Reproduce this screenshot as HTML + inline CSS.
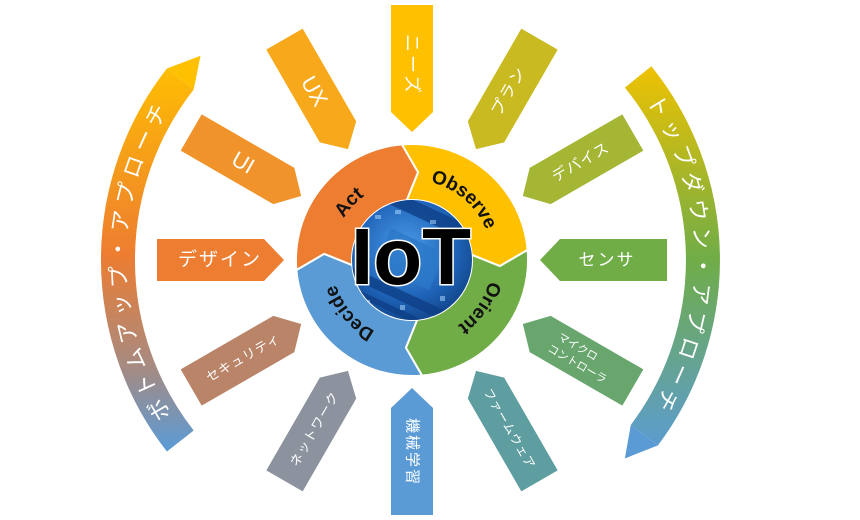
<!DOCTYPE html>
<html><head><meta charset="utf-8"><style>
html,body{margin:0;padding:0;background:#fff;}
svg{display:block;}
text{font-family:"Liberation Sans","Noto Sans CJK JP",sans-serif;}
.w{fill:#fff;}
</style></head><body>
<svg width="860" height="520" viewBox="0 0 860 520" xmlns="http://www.w3.org/2000/svg">
<defs>
<linearGradient id="gl" gradientUnits="userSpaceOnUse" x1="0" y1="60" x2="0" y2="450">
<stop offset="0" stop-color="#FFC000"/><stop offset="0.5" stop-color="#ED7D31"/><stop offset="0.78" stop-color="#A88A80"/><stop offset="1" stop-color="#5B9BD5"/></linearGradient>
<linearGradient id="gr" gradientUnits="userSpaceOnUse" x1="0" y1="62" x2="0" y2="455">
<stop offset="0" stop-color="#F2C200"/><stop offset="0.5" stop-color="#70AD47"/><stop offset="1" stop-color="#5B9BD5"/></linearGradient>
<radialGradient id="cb" cx="0.45" cy="0.4" r="0.7"><stop offset="0" stop-color="#4a9be6"/><stop offset="0.6" stop-color="#1f63b8"/><stop offset="1" stop-color="#0d3c7a"/></radialGradient>
<clipPath id="cc"><circle cx="412" cy="260" r="60"/></clipPath>
<path id="la" d="M180.3,441 A294 294 0 0 1 180.3,79"/>
<path id="ra" d="M638.1,76.9 A291 291 0 0 1 644.4,435.1"/>
<path id="rc" d="M492,260 A80 80 0 1 1 332,260 A80 80 0 1 1 492,260"/>
<polygon id="ar" points="255,-21 148,-21 128,0 148,21 255,21"/>
</defs>

<path d="M180.3,441 A294 294 0 0 1 180.3,79" fill="none" stroke="url(#gl)" stroke-width="34"/>
<g transform="translate(412,260) rotate(218)"><polygon points="277,0 311,0 292.4,30.7" fill="#FFC000"/></g>
<path d="M638.1,76.9 A291 291 0 0 1 644.4,435.1" fill="none" stroke="url(#gr)" stroke-width="34"/>
<g transform="translate(412,260) rotate(37)"><polygon points="274,0 308,0 289.4,30.4" fill="#5B9BD5"/></g>
<text font-size="22" class="w" letter-spacing="6" dominant-baseline="central"><textPath href="#la" startOffset="50%" text-anchor="middle">ボトムアップ・アプローチ</textPath></text>
<text font-size="22" class="w" letter-spacing="6" dominant-baseline="central"><textPath href="#ra" startOffset="50%" text-anchor="middle">トップダウン・アプローチ</textPath></text>

<g transform="translate(412,260)">
<use href="#ar" transform="rotate(180)" fill="#ED7D31"/>
<use href="#ar" transform="rotate(210)" fill="#F0932A"/>
<use href="#ar" transform="rotate(240)" fill="#F7A81B"/>
<use href="#ar" transform="rotate(270)" fill="#FFC000"/>
<use href="#ar" transform="rotate(300)" fill="#C9BA22"/>
<use href="#ar" transform="rotate(330)" fill="#A5B534"/>
<use href="#ar" transform="rotate(0)" fill="#70AD47"/>
<use href="#ar" transform="rotate(30)" fill="#68A66E"/>
<use href="#ar" transform="rotate(60)" fill="#5F9EA0"/>
<use href="#ar" transform="rotate(90)" fill="#5B9BD5"/>
<use href="#ar" transform="rotate(120)" fill="#8C929E"/>
<use href="#ar" transform="rotate(150)" fill="#BA8468"/>

<g class="w" text-anchor="middle" dominant-baseline="central">
<g transform="rotate(180) translate(192,0) rotate(180)"><text font-size="19" letter-spacing="2">デザイン</text></g>
<g transform="rotate(210) translate(195,0) rotate(-180)"><text font-size="22">UI</text></g>
<g transform="rotate(240) translate(195,0) rotate(180)"><text font-size="22">UX</text></g>
<g transform="rotate(270) translate(195,0) rotate(180)"><text font-size="18" letter-spacing="3">ニーズ</text></g>
<g transform="rotate(300) translate(195,0)"><text font-size="16" letter-spacing="2">プラン</text></g>
<g transform="rotate(330) translate(195,0)"><text font-size="15" letter-spacing="1">デバイス</text></g>
<g transform="rotate(0) translate(195,0)"><text font-size="17" letter-spacing="2">センサ</text></g>
<g transform="rotate(30) translate(195,0)"><text font-size="11" y="-7" x="-8">マイクロ</text><text font-size="11" y="8">コントローラ</text></g>
<g transform="rotate(60) translate(195,0)"><text font-size="12" letter-spacing="1">ファームウェア</text></g>
<g transform="rotate(90) translate(192,0)"><text font-size="15" letter-spacing="2">機械学習</text></g>
<g transform="rotate(120) translate(195,0) rotate(180)"><text font-size="13" letter-spacing="1">ネットワーク</text></g>
<g transform="rotate(150) translate(195,0) rotate(180)"><text font-size="13" letter-spacing="1">セキュリティ</text></g>
</g>
</g>

<g stroke="#fff" stroke-width="2" stroke-linejoin="round">
<path fill="#ED7D31" d="M296.4,270.1 A116 116 0 0 1 401.9,144.4 L418.1,172.2 L406.8,200.2 A60 60 0 0 0 352.2,265.2 L324.2,253.9 Z"/>
<path fill="#FFC000" d="M401.9,144.4 A116 116 0 0 1 527.6,249.9 L499.8,266.1 L471.8,254.8 A60 60 0 0 0 406.8,200.2 L418.1,172.2 Z"/>
<path fill="#70AD47" d="M527.6,249.9 A116 116 0 0 1 422.1,375.6 L405.9,347.8 L417.2,319.8 A60 60 0 0 0 471.8,254.8 L499.8,266.1 Z"/>
<path fill="#5B9BD5" d="M422.1,375.6 A116 116 0 0 1 296.4,270.1 L324.2,253.9 L352.2,265.2 A60 60 0 0 0 417.2,319.8 L405.9,347.8 Z"/>
</g>
<g font-size="19" font-weight="bold" fill="#111">
<text><textPath href="#rc" startOffset="310" text-anchor="middle">Act</textPath></text>
<text><textPath href="#rc" startOffset="433" text-anchor="middle">Observe</textPath></text>
<text><textPath href="#rc" startOffset="49" text-anchor="middle">Orient</textPath></text>
<text><textPath href="#rc" startOffset="195" text-anchor="middle">Decide</textPath></text>
</g>

<circle cx="412" cy="260" r="60" fill="url(#cb)"/>
<g clip-path="url(#cc)">
<g transform="rotate(25 412 260)" fill="#0e3f86" opacity="0.8">
<rect x="350" y="205" width="130" height="14"/>
<rect x="340" y="292" width="140" height="10"/>
<rect x="380" y="240" width="60" height="40" fill="#2c78c9"/>
<rect x="360" y="310" width="100" height="6"/>
</g>
<g fill="#9ccbf5" opacity="0.6">
<rect x="375" y="215" width="6" height="4"/><rect x="395" y="210" width="6" height="4"/><rect x="430" y="220" width="6" height="4"/>
<rect x="365" y="300" width="5" height="5"/><rect x="400" y="305" width="5" height="5"/><rect x="440" y="296" width="5" height="5"/>
</g>
</g>
<text x="411" y="284" text-anchor="middle" font-size="80" font-weight="bold" fill="#000" stroke="#fff" stroke-width="3" paint-order="stroke">IoT</text>
</svg>
</body></html>
